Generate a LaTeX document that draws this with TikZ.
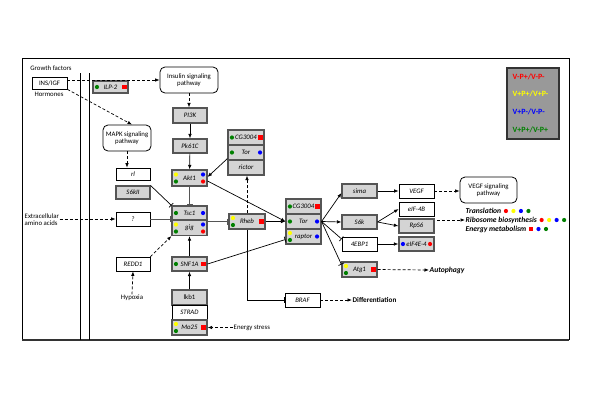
\documentclass[tikz,border=0pt]{standalone}
\usepackage{fontspec}
\setmainfont{Carlito}
\usetikzlibrary{arrows.meta,calc}
\definecolor{boxgray}{HTML}{555555}
\definecolor{fillgray}{HTML}{D4D4D4}
\definecolor{dgreen}{HTML}{008000}
\definecolor{legfill}{HTML}{999999}
\definecolor{lyellow}{HTML}{FFFF00}
\definecolor{lred}{HTML}{FF0000}
\definecolor{lblue}{HTML}{0000FF}
\newcommand\pdot[2]{\fill[#1] (#2) circle (2.1);}
\newcommand\psq[2]{\fill[#1] ($(#2)+(-2.3,-2.3)$) rectangle ($(#2)+(2.3,2.3)$);}
\newcommand\xdL[2]{\pdot{#2}{$(#1.west)+(4.5,0)$}}
\newcommand\xdR[2]{\pdot{#2}{$(#1.east)+(-4.5,0)$}}
\newcommand\xdTL[2]{\pdot{#2}{$(#1.west)+(4.5,-3.5)$}}
\newcommand\xdBL[2]{\pdot{#2}{$(#1.west)+(4.5,3.5)$}}
\newcommand\xdTR[2]{\pdot{#2}{$(#1.east)+(-4.5,-3.5)$}}
\newcommand\xdBR[2]{\pdot{#2}{$(#1.east)+(-4.5,3.5)$}}
\newcommand\xsR[2]{\psq{#2}{$(#1.east)+(-4.2,0)$}}
\begin{document}
\begin{tikzpicture}[x=1pt,y=-1pt,
  base/.style={font=\fontsize{6.8}{7.6}\selectfont, inner sep=0.5pt, align=center},
  gbox/.style={base, font=\fontsize{6.8}{7.6}\selectfont\itshape, draw=boxgray, fill=fillgray, line width=1.1pt, minimum width=35pt, minimum height=15pt},
  wbox/.style={base, font=\fontsize{6.8}{7.6}\selectfont\itshape, draw=black, fill=white, line width=0.7pt, minimum width=35pt, minimum height=14pt},
  rbox/.style={base, draw=black, fill=white, rounded corners=5pt, line width=0.8pt, minimum height=26pt},
  lbl/.style={base},
  btxt/.style={base, font=\fontsize{7.6}{8.5}\selectfont\bfseries\itshape, anchor=west},
  legt/.style={base, font=\fontsize{8}{9}\selectfont\bfseries, anchor=west},
  arr/.style={-{Latex[length=4.5pt,width=3.5pt]}, line width=0.7pt},
  darr/.style={arr, dash pattern=on 3pt off 2pt},
  inh/.style={-{Bar[width=6pt]}, line width=0.7pt},
  ginh/.style={inh, draw=boxgray, line width=1pt}
]
\useasboundingbox (0,0) rectangle (600,416);
% frame
\draw[line width=1pt] (22,340) -- (22,58) -- (569,58) -- (569,340);
\draw[line width=1.8pt, draw=black!80] (22,340) -- (569,340);
\draw[line width=0.8pt] (80.5,73) -- (80.5,340);
\draw[line width=0.8pt] (89,73) -- (89,340);

% left inputs
\node[lbl] (gf) at (51,68) {Growth factors};
\node[wbox, font=\fontsize{6.8}{7.6}\selectfont, minimum height=12pt] (ins) at (49.5,83) {INS/IGF};
\node[lbl] (hor) at (49,94) {Hormones};
\node[lbl, anchor=west, align=left] (ext) at (24,219.5) {Extracellular\\amino acids};
\node[lbl] (hyp) at (132,298) {Hypoxia};
\node[lbl, anchor=west] (es) at (233,327.5) {Energy stress};

% nodes
\node[gbox, minimum height=12pt] (ilp) at (110.5,87) {ILP-2};
\node[rbox, minimum width=58pt] (insp) at (189,80) {Insulin signaling\\pathway};
\node[rbox, minimum width=48pt] (mapk) at (127,138) {MAPK signaling\\pathway};
\node[gbox, minimum width=34pt] (pi3k) at (190,115.5) {PI3K};
\node[gbox, minimum width=34pt, minimum height=14pt] (pk61c) at (190,146) {Pk61C};
\node[gbox, minimum height=16pt] (akt1) at (189.5,178) {Akt1};
\node[gbox, minimum width=36pt] (cg1) at (246,137.5) {CG3004};
\node[gbox, minimum width=36pt] (tor2) at (246,152.5) {Tor};
\node[gbox, minimum width=36pt] (rictor) at (246,167.5) {rictor};
\node[wbox, minimum width=34pt, minimum height=12pt] (rl) at (133,174) {rl};
\node[gbox, minimum width=34pt, minimum height=13pt] (s6kii) at (133,192.5) {S6kII};
\node[wbox, minimum width=34pt] (q) at (133,219) {?};
\node[wbox, minimum width=34pt] (redd1) at (133,264) {REDD1};
\node[gbox, minimum height=14pt] (tsc1) at (189.5,213) {Tsc1};
\node[gbox] (gig) at (189.5,228) {gig};
\node[gbox, minimum height=14pt] (snf1a) at (189.5,264) {SNF1A};
\node[gbox, font=\fontsize{6.8}{7.6}\selectfont] (lkb1) at (189.5,297.5) {lkb1};
\node[wbox, minimum height=15pt] (strad) at (189.5,312.5) {STRAD};
\node[gbox] (mo25) at (189.5,327.5) {Mo25};
\node[gbox, minimum width=36pt] (rheb) at (247,221.5) {Rheb};
\node[gbox] (cg2) at (303.5,206.5) {CG3004};
\node[gbox] (tor) at (303.5,221.5) {Tor};
\node[gbox] (raptor) at (303.5,236.5) {raptor};
\node[wbox] (braf) at (302.5,300) {BRAF};
\node[gbox, minimum height=14pt] (sima) at (359.5,191) {sima};
\node[wbox] (vegf) at (416.5,191) {VEGF};
\node[rbox, minimum width=57pt] (vegfp) at (488.5,190) {VEGF signaling\\pathway};
\node[gbox, minimum height=14pt] (s6k) at (359.5,222) {S6k};
\node[wbox] (eif4b) at (416.5,209) {eIF-4B};
\node[gbox, minimum height=14pt] (rps6) at (416.5,226) {RpS6};
\node[wbox] (ebp1) at (359.5,244) {4EBP1};
\node[gbox, minimum height=14pt] (eif4e) at (416.5,244) {eIF4E-4};
\node[gbox] (atg1) at (359.5,269.5) {Atg1};

% outputs
\node[btxt, font=\fontsize{7.2}{8}\selectfont\bfseries] (diff) at (352,300) {Differentiation};
\node[btxt] (aut) at (429,270) {Autophagy};
\node[btxt] (trans) at (465,211) {Translation};
\node[btxt] (rib) at (465,220) {Ribosome biosynthesis};
\node[btxt] (energ) at (465,229) {Energy metabolism};
\coordinate (ribsrc) at (437,220);

% legend
\node[draw=black!80, fill=legfill, line width=1.2pt, minimum width=52pt, minimum height=71pt, inner sep=0] (leg) at (533,103.5) {};
\node[legt, text=lred] (leg1) at (512,77) {V-P+/V-P-};
\node[legt, text=lyellow] (leg2) at (512,94) {V+P+/V+P-};
\node[legt, text=lblue] (leg3) at (512,111.5) {V+P-/V-P-};
\node[legt, text=dgreen] (leg4) at (512,129.5) {V+P+/V-P+};

% dots
\xdL{ilp}{dgreen} \xsR{ilp}{lred}
\xdTL{akt1}{lyellow} \xdBL{akt1}{dgreen} \xdTR{akt1}{lblue} \xdBR{akt1}{lred}
\xdL{cg1}{dgreen} \xsR{cg1}{lred}
\xdL{tor2}{dgreen} \xdR{tor2}{lblue}
\xdL{tsc1}{dgreen} \xdR{tsc1}{lblue}
\xdTL{gig}{lyellow} \xdBL{gig}{dgreen} \xdTR{gig}{lblue} \xdBR{gig}{lred}
\xdL{snf1a}{dgreen} \xsR{snf1a}{lred}
\xdTL{mo25}{lyellow} \xdBL{mo25}{dgreen} \xsR{mo25}{lred}
\xdTL{rheb}{lyellow} \xdBL{rheb}{dgreen} \xsR{rheb}{lred}
\xdL{cg2}{dgreen} \xsR{cg2}{lred}
\xdL{tor}{dgreen} \xdR{tor}{lblue}
\xdTL{raptor}{lyellow} \xdBL{raptor}{dgreen} \xdR{raptor}{lblue}
\xdL{eif4e}{lblue} \xdR{eif4e}{lred}
\xdTL{atg1}{lyellow} \xdBL{atg1}{dgreen} \xsR{atg1}{lred}
\pdot{lred}{$(trans.east)+(4,0)$} \pdot{lyellow}{$(trans.east)+(11.5,0)$} \pdot{lblue}{$(trans.east)+(19,0)$} \pdot{dgreen}{$(trans.east)+(26.5,0)$}
\pdot{lred}{$(rib.east)+(4,0)$} \pdot{lyellow}{$(rib.east)+(11.5,0)$} \pdot{lblue}{$(rib.east)+(19,0)$} \pdot{dgreen}{$(rib.east)+(26.5,0)$}
\psq{lred}{$(energ.east)+(4,0)$} \pdot{lblue}{$(energ.east)+(11.5,0)$} \pdot{dgreen}{$(energ.east)+(19,0)$}

% connectors
\draw[darr] (ins.east |- insp.west) -- (insp.west);
\draw[darr] (ins.south east) -- ($(mapk.north)+(5,0)$);
\draw[darr] (insp.south) -- (insp.south |- pi3k.north);
\draw[arr] (pi3k) -- (pk61c);
\draw[arr] (pk61c) -- (akt1);
\draw[arr] ($(tor2.south west)+(0,-2)$) -- ($(akt1.east)+(0,-1)$);
\draw[darr] (mapk.south) -- (mapk.south |- rl.north);
\draw[inh] (s6kii.north east) -- (tsc1.north west);
\draw[ginh] (q.east) -- (q.east -| tsc1.west);
\draw[darr] (ext.east |- q.west) -- (q.west);
\draw[darr] (redd1.north east) -- (gig.south west);
\draw[darr] (hyp.north) -- (redd1.south);
\draw[ginh] (akt1.south) -- (tsc1.north);
\draw[arr] ($(akt1.east)+(0,3)$) -- (tor.west);
\draw[arr] (snf1a.north) -- (gig.south);
\draw[arr] (lkb1.north) -- (snf1a.south);
\draw[darr] (es.west) -- (mo25.east);
\draw[inh] (snf1a.east) -- ($(raptor.west)+(0,3)$);
\draw[ginh] (gig.north east |- rheb.west) -- (rheb.west);
\draw[arr] (rheb.east) -- (tor.west);
\draw[darr] (rheb.north) -- (rheb.north |- rictor.south);
\draw[inh] (rheb.south) |- (braf.west);
\draw[darr] (braf.east) -- (diff.west);
\draw[arr] (tor.east) -- ($(sima.west)+(0,2)$);
\draw[arr] (tor.east) -- (s6k.west);
\draw[inh] (tor.east) -- ($(ebp1.west)+(0,-5)$);
\draw[inh] (tor.east) -- ($(atg1.west)+(0,-5)$);
\draw[arr] (sima) -- (vegf);
\draw[darr] (vegf.east) -- (vegf.east -| vegfp.west);
\draw[arr] (s6k.east) -- (eif4b.west);
\draw[arr] (s6k.east) -- (rps6.west);
\draw[arr] (ebp1) -- (eif4e);
\draw[darr] (atg1.east) -- (aut.west);
\draw[darr] (ribsrc) -- (rib.west);
\end{tikzpicture}
\end{document}
